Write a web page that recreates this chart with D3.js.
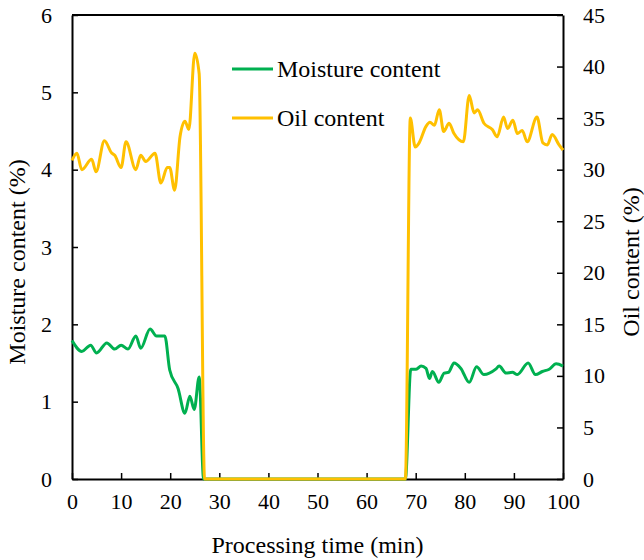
<!DOCTYPE html>
<html><head><meta charset="utf-8">
<script src="https://cdn.jsdelivr.net/npm/d3@7"></script>
<style>body{margin:0;background:#fff}svg{display:block}text{font-family:"Liberation Serif","Times New Roman",serif;fill:#000}</style>
</head><body>
<script>
// Moisture content (%) — left axis
const moistTime = [0,2.0,3.8,5.0,7.1,8.7,10.0,11.4,13.0,14.0,15.9,17.2,18.9,19.9,21.6,23.0,24.0,24.9,25.9,26.8,
  30,40,50,60,67.9,69.0,70.1,71.1,72.1,72.8,73.4,74.7,75.8,76.7,77.8,79.2,80.9,82.4,83.9,86.3,87.0,88.4,89.7,90.7,92.9,94.4,95.8,97.2,98.6,100];
const moistVal = [1.79,1.65,1.73,1.63,1.76,1.68,1.73,1.68,1.85,1.69,1.94,1.85,1.85,1.41,1.17,0.85,1.07,0.90,1.32,0,
  0,0,0,0,0,1.42,1.42,1.46,1.43,1.30,1.39,1.25,1.37,1.38,1.50,1.43,1.25,1.45,1.35,1.42,1.46,1.37,1.38,1.35,1.50,1.35,1.39,1.42,1.49,1.46];
// Oil content (%) — right axis
const oilTime = [0,1.0,2.0,4.0,4.9,6.6,8.1,8.7,10.0,11.0,13.0,14.0,15.0,16.9,18.1,19.4,19.9,20.9,22.0,23.0,23.8,25.0,25.9,27.0,
  30,40,50,60,67.9,68.9,69.9,70.7,72.1,72.9,73.8,74.8,75.7,76.8,77.8,79.7,80.9,81.9,82.6,83.9,85.6,86.6,87.9,88.7,89.8,90.7,91.7,92.7,94.7,95.9,96.8,97.8,99.2,100];
const oilVal = [30.9,31.6,30.0,31.0,29.8,32.8,31.6,31.4,30.2,32.7,30.0,31.4,30.8,31.6,28.7,30.2,30.2,28.0,33.2,34.7,33.9,41.3,39.3,0,
  0,0,0,0,0,35.0,32.2,32.6,34.2,34.6,34.3,35.8,33.7,34.5,33.5,32.7,37.2,35.5,35.8,34.5,33.9,33.2,35.1,34.0,34.8,33.5,33.8,32.7,35.1,32.6,32.4,33.4,32.4,31.9];
const xTicks = [0,10,20,30,40,50,60,70,80,90,100];
const yLeftTicks = [0,1,2,3,4,5,6];
const yRightTicks = [0,5,10,15,20,25,30,35,40,45];
const seriesNames = ["Moisture content","Oil content"];
const colors = ["#00b050","#ffc000"];

const W=644,H=560, m={l:72,r:81,t:15,b:81};
const svg=d3.select("body").append("svg").attr("width",W).attr("height",H);
const x=d3.scaleLinear().domain([0,100]).range([m.l,W-m.r]);
const yL=d3.scaleLinear().domain([0,6]).range([H-m.b,m.t]);
const yR=d3.scaleLinear().domain([0,45]).range([H-m.b,m.t]);

const fs=22, fmt=d3.format("d");
const gx=svg.append("g").attr("transform",`translate(0,${H-m.b})`)
  .call(d3.axisBottom(x).tickValues(xTicks).tickFormat(fmt).tickSizeInner(-6).tickSizeOuter(0).tickPadding(14));
const gl=svg.append("g").attr("transform",`translate(${m.l},0)`)
  .call(d3.axisLeft(yL).tickValues(yLeftTicks).tickFormat(fmt).tickSizeInner(-6).tickSizeOuter(0).tickPadding(20));
const gr=svg.append("g").attr("transform",`translate(${W-m.r},0)`)
  .call(d3.axisRight(yR).tickValues(yRightTicks).tickFormat(fmt).tickSizeInner(-6).tickSizeOuter(0).tickPadding(20));
[gx,gl,gr].forEach(g=>{g.selectAll("text").attr("font-size",fs).attr("font-family","Liberation Serif");
  g.select(".domain").attr("stroke","#000").attr("stroke-width",2);
  g.selectAll(".tick line").attr("stroke","#000").attr("stroke-width",1.5);});
// top border
svg.append("line").attr("x1",m.l).attr("x2",W-m.r).attr("y1",m.t).attr("y2",m.t).attr("stroke","#000").attr("stroke-width",2);

const lineL=d3.line().x(d=>x(d[0])).y(d=>yL(d[1])).curve(d3.curveMonotoneX);
const lineR=d3.line().x(d=>x(d[0])).y(d=>yR(d[1])).curve(d3.curveMonotoneX);
svg.append("path").attr("d",lineL(d3.zip(moistTime,moistVal))).attr("fill","none").attr("stroke",colors[0]).attr("stroke-width",3).attr("stroke-linejoin","round");
svg.append("path").attr("d",lineR(d3.zip(oilTime,oilVal))).attr("fill","none").attr("stroke",colors[1]).attr("stroke-width",3).attr("stroke-linejoin","round");

// legend
seriesNames.forEach((n,i)=>{
  const yy=69+i*49;
  svg.append("line").attr("x1",232).attr("x2",273).attr("y1",yy).attr("y2",yy).attr("stroke",colors[i]).attr("stroke-width",3);
  svg.append("text").attr("x",277).attr("y",yy+8).attr("font-size",24).text(n);
});

// titles
svg.append("text").attr("x",(m.l+W-m.r)/2).attr("y",553).attr("text-anchor","middle").attr("font-size",24).text("Processing time (min)");
svg.append("text").attr("transform",`translate(25,262) rotate(-90)`).attr("text-anchor","middle").attr("font-size",24).text("Moisture content (%)");
svg.append("text").attr("transform",`translate(639,262) rotate(-90)`).attr("text-anchor","middle").attr("font-size",24).text("Oil content (%)");
</script>
</body></html>
